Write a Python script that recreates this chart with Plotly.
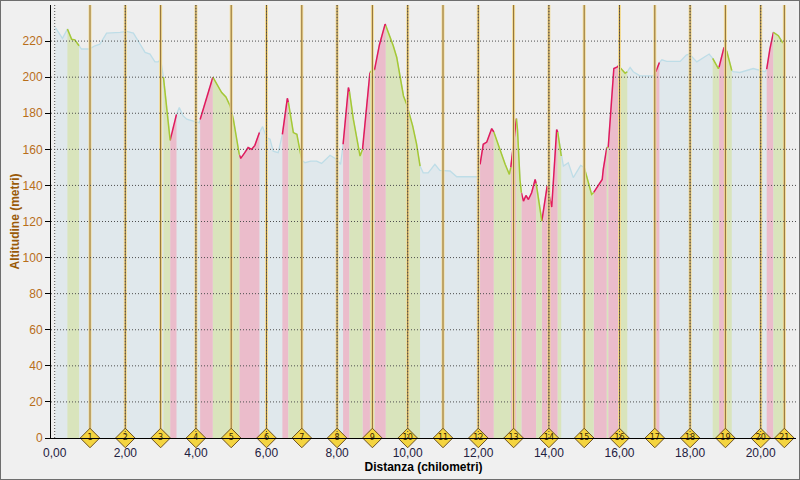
import numpy as np
import plotly.graph_objects as go

# ─── Data ────────────────────────────────────────────────────────────

dist_km = [0.02, 0.10, 0.22, 0.36, 0.48, 0.57, 0.69, 0.76, 0.98, 1.14, 1.28, 1.47, 1.85, 2.04,
           2.23, 2.42, 2.56, 2.70, 2.84, 2.93, 3.00, 3.08, 3.17, 3.27, 3.45, 3.53, 3.64, 3.74,
           3.93, 4.10, 4.12, 4.30, 4.48, 4.59, 4.73, 4.85, 4.97, 5.06, 5.15, 5.23, 5.27, 5.38,
           5.48, 5.58, 5.67, 5.80, 5.89, 6.00, 6.10, 6.19, 6.33, 6.40, 6.45, 6.59, 6.62, 6.76,
           6.86, 6.97, 7.00, 7.09, 7.25, 7.42, 7.56, 7.80, 7.99, 8.10, 8.17, 8.32, 8.35, 8.46,
           8.65, 8.72, 8.93, 9.00, 9.06, 9.20, 9.36, 9.38, 9.59, 9.69, 9.88, 9.97, 10.14, 10.25,
           10.35, 10.44, 10.58, 10.77, 10.91, 11.20, 11.39, 12.00, 12.05, 12.14, 12.24, 12.38,
           12.44, 12.57, 12.76, 12.88, 12.92, 13.08, 13.11, 13.18, 13.22, 13.28, 13.35, 13.42,
           13.51, 13.61, 13.64, 13.70, 13.80, 13.84, 13.95, 14.08, 14.22, 14.25, 14.35, 14.41,
           14.55, 14.69, 14.90, 15.00, 15.21, 15.27, 15.51, 15.54, 15.64, 15.68, 15.78, 15.84,
           15.94, 15.97, 16.06, 16.16, 16.22, 16.30, 16.39, 16.58, 16.96, 17.03, 17.13, 17.20,
           17.34, 17.72, 17.89, 17.98, 18.19, 18.37, 18.54, 18.64, 18.80, 18.82, 18.96, 19.00,
           19.04, 19.18, 19.22, 19.41, 19.79, 20.12, 20.17, 20.26, 20.36, 20.50, 20.63]

alt_m = [227.5, 225.0, 221.5, 226.7, 221.0, 220.7, 217.4, 215.6, 215.6, 217.4, 218.3, 224.4, 224.8, 225.4,
         224.4, 218.3, 213.7, 212.8, 208.5, 208.5, 210.0, 200.0, 182.0, 165.0, 179.4, 183.2, 178.5, 176.7,
         175.6, 174.8, 176.5, 188.0, 200.0, 196.0, 191.5, 189.0, 184.0, 176.7, 165.0, 157.0, 155.0, 158.0,
         161.0, 160.0, 162.2, 169.3, 172.6, 166.5, 165.6, 159.0, 158.2, 164.0, 168.3, 188.3, 186.0, 169.3,
         168.3, 155.4, 154.0, 152.6, 153.5, 153.5, 152.2, 156.7, 154.4, 151.7, 162.8, 194.3, 192.0, 176.7,
         156.3, 160.0, 202.6, 204.0, 204.0, 218.0, 229.4, 228.5, 217.4, 210.9, 189.6, 185.0, 173.0, 163.0,
         150.7, 147.0, 147.0, 151.7, 148.3, 148.0, 144.8, 144.8, 151.7, 162.8, 164.0, 171.5,
         169.6, 161.8, 151.7, 146.1, 150.0, 177.0, 171.0, 143.3, 136.0, 131.3, 134.4, 132.2,
         135.9, 143.3, 141.0, 134.0, 120.2, 125.7, 139.6, 128.0, 171.0, 169.5, 156.3, 150.7,
         152.6, 144.3, 151.1, 150.0, 135.0, 136.1, 143.3, 148.9, 161.0, 161.0, 190.0, 204.8,
         205.7, 206.3, 204.1, 202.2, 203.0, 205.4, 203.0, 200.7, 200.7, 203.0, 208.1, 209.6,
         208.7, 208.7, 212.2, 212.8, 208.5, 210.9, 212.8, 210.4, 204.8, 205.5, 216.5, 215.5,
         214.3, 203.7, 203.0, 202.6, 204.8, 203.0, 204.4, 215.6, 224.8, 223.0, 218.9]

# climbs (salita) and descents (discesa), as start/end km
up_segments = [(3.27, 3.45), (4.12, 4.48), (5.23, 5.80), (6.45, 6.62), (8.17, 8.35), (8.72, 8.93),
               (9.06, 9.38), (12.05, 12.44), (12.92, 13.08), (13.22, 13.64), (13.80, 14.25),
               (15.27, 15.64), (15.68, 15.97), (17.03, 17.13), (18.82, 19.00), (20.17, 20.36)]
down_segments = [(0.36, 0.69), (3.08, 3.27), (4.48, 5.23), (6.62, 7.00), (8.35, 8.72), (8.93, 9.06),
                 (9.38, 10.35), (12.44, 12.92), (13.08, 13.22), (13.64, 13.80), (14.25, 14.35),
                 (15.00, 15.27), (15.64, 15.68), (15.97, 16.22), (18.64, 18.82), (19.00, 19.18),
                 (20.36, 20.63)]

km_marks = [1, 2, 3, 4, 5, 6, 7, 8, 9, 10, 11, 12, 13, 14, 15, 16, 17, 18, 19, 20, 20.67]
km_labels = [str(i) for i in range(1, 22)]

y_ticks = [0, 20, 40, 60, 80, 100, 120, 140, 160, 180, 200, 220]
x_ticks = [0, 2, 4, 6, 8, 10, 12, 14, 16, 18, 20]

Y_MAX = 240
X_RANGE = [-0.105, 21.0]

# ─── Figure ──────────────────────────────────────────────────────────

d = np.array(dist_km)
a = np.array(alt_m)

fig = go.Figure()

# whole profile (flat parts)
fig.add_trace(go.Scatter(x=d, y=a, mode="lines", fill="tozeroy",
                         fillcolor="#E0E8EC", line=dict(color="#BEDDE7", width=1.3),
                         hoverinfo="skip"))


def add_segments(segs, fill, line):
    for s, e in segs:
        m = (d >= s - 1e-9) & (d <= e + 1e-9)
        fig.add_trace(go.Scatter(x=d[m], y=a[m], mode="lines", fill="tozeroy",
                                 fillcolor=fill, line=dict(color=line, width=1.5),
                                 hoverinfo="skip"))


add_segments(up_segments, "#EBBCCB", "#E2195C")
add_segments(down_segments, "#D9E4BC", "#A6C834")

# km lines
vx, vy = [], []
for k in km_marks:
    vx += [k, k, None]
    vy += [0, Y_MAX, None]
fig.add_trace(go.Scatter(x=vx, y=vy, mode="lines", line=dict(color="#F3DC96", width=3),
                         hoverinfo="skip"))
fig.add_trace(go.Scatter(x=vx, y=vy, mode="lines", line=dict(color="#8C6C34", width=1),
                         hoverinfo="skip"))

# grid on top of the fills
grid = dict(color="#4E4E4E", width=1, dash="1px,2px")
for yv in y_ticks[1:]:
    fig.add_shape(type="line", xref="x domain", yref="y", x0=0, x1=1, y0=yv, y1=yv,
                  line=grid, layer="above")
for xv in x_ticks:
    fig.add_shape(type="line", xref="x", yref="y domain", x0=xv, x1=xv, y0=0, y1=1,
                  line=grid, layer="above")

# km diamonds
fig.add_trace(go.Scatter(x=km_marks, y=[0] * len(km_marks), mode="markers+text",
                         text=km_labels, textposition="middle center",
                         textfont=dict(size=8, color="#3A2800", family="DejaVu Sans"),
                         marker=dict(symbol="diamond", size=15, color="#F4D440",
                                     line=dict(color="#6E5220", width=1)),
                         cliponaxis=False, hoverinfo="skip"))

L, R, T, B = 51, 4, 5, 42
pw, ph = 800 - L - R, 480 - T - B
fig.add_shape(type="rect", xref="paper", yref="paper",
              x0=-L / pw, x1=1 + R / pw, y0=-B / ph, y1=1 + T / ph,
              line=dict(color="#6E6E6E", width=2))

fig.update_layout(
    width=800, height=480,
    margin=dict(l=L, r=R, t=T, b=B, autoexpand=False),
    paper_bgcolor="#F0F0F0", plot_bgcolor="#EEEEEE",
    showlegend=False,
    separators=",.",
    font=dict(family="Liberation Sans", size=11),
    xaxis=dict(range=X_RANGE, tickvals=x_ticks, tickformat=".2f", showgrid=False,
               zeroline=False, showline=True, linecolor="black", linewidth=1,
               ticks="", ticklabelstandoff=4, tickfont=dict(size=12, color="#1E2040"),
               automargin=False,
               title=dict(text="<b>Distanza (chilometri)</b>", standoff=3,
                          font=dict(size=12, color="black"))),
    yaxis=dict(range=[0, Y_MAX], tickvals=y_ticks, showgrid=False, zeroline=False,
               showline=True, linecolor="black", linewidth=1, automargin=False,
               ticks="outside", ticklen=5, tickcolor="black",
               tickfont=dict(size=12, color="#B86E1A"),
               title=dict(text="<b>Altitudine (metri)</b>", standoff=0,
                          font=dict(size=12, color="#9A5A08"))),
)

fig.write_html("out.html", config={"displayModeBar": False},
               post_script="document.body.style.margin='0';")
